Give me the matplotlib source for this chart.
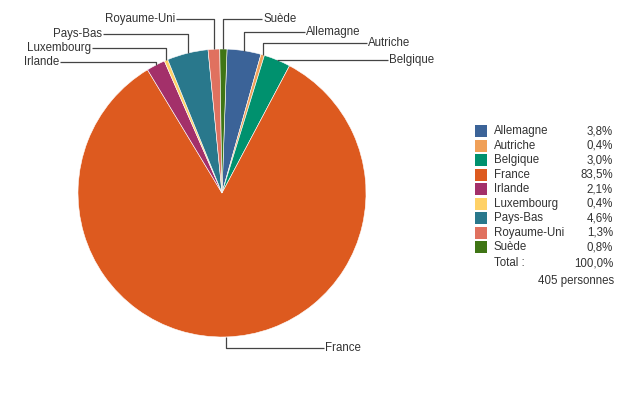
import numpy as np
import matplotlib
matplotlib.use("Agg")
import matplotlib.pyplot as plt
from matplotlib.patches import Rectangle

pays = ["Allemagne", "Autriche", "Belgique", "France", "Irlande",
        "Luxembourg", "Pays-Bas", "Royaume-Uni", "Suède"]
parts = [3.8, 0.4, 3.0, 83.5, 2.1, 0.4, 4.6, 1.3, 0.8]
parts_txt = ["3,8%", "0,4%", "3,0%", "83,5%", "2,1%", "0,4%", "4,6%", "1,3%", "0,8%"]
total_txt = "100,0%"
effectif_txt = "405 personnes"
couleurs = ["#3b6398", "#f0a058", "#00916e", "#dd5a1f", "#a3306a",
            "#ffd166", "#29788c", "#e0715f", "#3f7515"]

W, H = 640, 394
plt.rcParams['font.family'] = ['Liberation Sans', 'DejaVu Sans']
fs = 8.3
txt_col = "#333333"
line_col = "#444444"

fig = plt.figure(figsize=(W / 100, H / 100), dpi=100)
ax = fig.add_axes([0, 0, 1, 1])
ax.set_xlim(0, W)
ax.set_ylim(0, H)
ax.axis("off")

def py(y):
    # pixel y (from top) -> axes y
    return H - y

cx, cy, r = 222, 193, 144
wedges, _ = ax.pie(parts, colors=couleurs, startangle=88, counterclock=False,
                   center=(cx, py(cy)), radius=r, frame=True,
                   wedgeprops=dict(edgecolor="white", linewidth=0.4))
ax.set_xlim(0, W)
ax.set_ylim(0, H)
ax.set_aspect("equal")
ax.axis("off")

# label positions (pixel coords): text y, text x, side
etiquettes = {
    "Allemagne": (32, 306, "r"),
    "Autriche": (43, 368, "r"),
    "Belgique": (60, 389, "r"),
    "France": (348, 325, "r"),
    "Irlande": (62, 59, "l"),
    "Luxembourg": (48, 91, "l"),
    "Pays-Bas": (34, 102, "l"),
    "Royaume-Uni": (19, 175, "l"),
    "Suède": (19, 263, "r"),
}

for w, nom in zip(wedges, pays):
    ang = np.deg2rad((w.theta1 + w.theta2) / 2)
    ax_x = cx + r * np.cos(ang)
    ax_y = py(cy) + r * np.sin(ang)
    ty, tx, side = etiquettes[nom]
    yl = py(ty)
    if nom == "Belgique":
        xs, ys = [ax_x, tx - 1], [ax_y, ax_y]
        yl = ax_y
    else:
        xs = [ax_x, ax_x, tx - 1 if side == "r" else tx + 1]
        ys = [ax_y, yl, yl]
    ax.plot(xs, ys, color=line_col, lw=0.9, solid_capstyle="butt")
    ax.text(tx, yl, nom, fontsize=fs, color=txt_col,
            ha="left" if side == "r" else "right", va="center")

# legend
y0, dy = 131, 14.5
for i, (nom, c, p) in enumerate(zip(pays, couleurs, parts_txt)):
    y = y0 + i * dy
    ax.add_patch(Rectangle((475, py(y + 6)), 12, 12, facecolor=c, edgecolor="none"))
    ax.text(494, py(y), nom, fontsize=fs, color=txt_col, ha="left", va="center")
    ax.text(613, py(y), p, fontsize=fs, color=txt_col, ha="right", va="center")
ax.text(494, py(263), "Total :", fontsize=fs, color=txt_col, ha="left", va="center")
ax.text(613, py(263), total_txt, fontsize=fs, color=txt_col, ha="right", va="center")
ax.text(614, py(281), effectif_txt, fontsize=fs, color=txt_col, ha="right", va="center")

fig.savefig("out.png", dpi=100)
